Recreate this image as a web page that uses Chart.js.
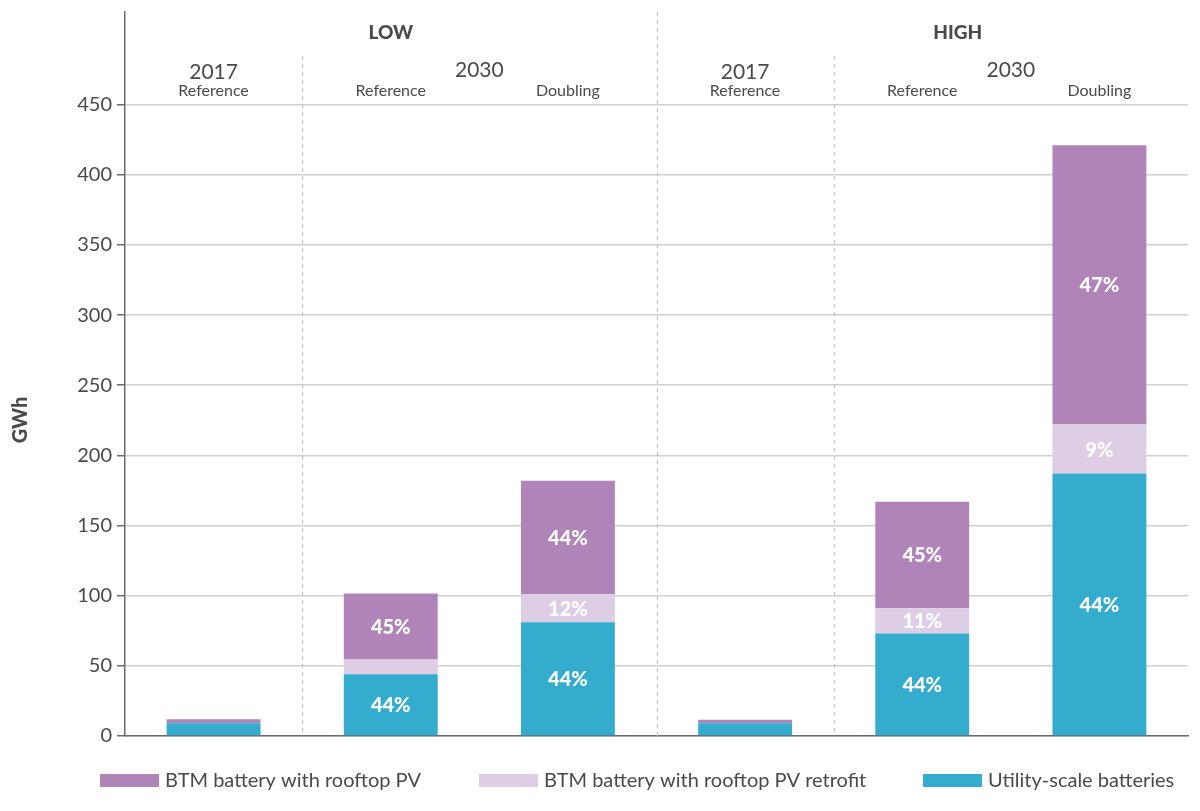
<!DOCTYPE html>
<html>
<head>
<meta charset="utf-8">
<title>Battery storage GWh</title>
<script src="https://cdn.jsdelivr.net/npm/chart.js@4.4.1/dist/chart.umd.min.js"></script>
<style>
  html, body { margin: 0; padding: 0; background: #fff; }
  #wrap { width: 1200px; height: 811px; position: relative; }
</style>
</head>
<body>
<div id="wrap"><canvas id="chart"></canvas></div>
<script>
// categories: scenario group + year + case
const categories = ["LOW 2017 Reference", "LOW 2030 Reference", "LOW 2030 Doubling",
                    "HIGH 2017 Reference", "HIGH 2030 Reference", "HIGH 2030 Doubling"];

// GWh
const utilityScale = [9, 44, 81, 9, 73, 187];
const btmRetrofit  = [0, 10.5, 20, 0, 18, 35];
const btmRooftop   = [3, 47, 81, 2.5, 76, 199];

// share labels printed inside the bars
const utilityPct  = ["", "44%", "44%", "", "44%", "44%"];
const retrofitPct = ["", "", "12%", "", "11%", "9%"];
const rooftopPct  = ["", "45%", "44%", "", "45%", "47%"];

const yTicks = [0, 50, 100, 150, 200, 250, 300, 350, 400, 450];

// header texts above the plot
const groupLabels = ["LOW", "HIGH"];
const yearLabels = ["2017", "2030", "2017", "2030"];
const caseLabels = ["Reference", "Reference", "Doubling", "Reference", "Reference", "Doubling"];

const PURPLE = "#b084b8";
const LILAC = "#ddcde5";
const TEAL = "#34acce";
const TEXT = "#4a4a4a";
const FONT = "Lato, 'Open Sans', sans-serif";

const overlay = {
  id: "overlay",
  beforeDatasetsDraw(chart) {
    const { ctx, chartArea, scales } = chart;
    const xs = scales.x;
    ctx.save();
    ctx.strokeStyle = "#c4c4c4";
    ctx.lineWidth = 1.2;
    ctx.setLineDash([4, 4]);
    [[0.5, 56], [2.5, chartArea.top], [3.5, 56]].forEach(([v, top]) => {
      const x = Math.round(xs.getPixelForValue(v)) + 0.5;
      ctx.beginPath();
      ctx.moveTo(x, top);
      ctx.lineTo(x, chartArea.bottom);
      ctx.stroke();
    });
    ctx.restore();
  },
  afterDatasetsDraw(chart) {
    const { ctx } = chart;
    const pcts = [utilityPct, retrofitPct, rooftopPct];
    ctx.save();
    ctx.fillStyle = "#fff";
    ctx.font = "900 20px " + FONT;
    ctx.textAlign = "center";
    ctx.textBaseline = "middle";
    chart.data.datasets.forEach((ds, i) => {
      chart.getDatasetMeta(i).data.forEach((bar, j) => {
        const t = pcts[i][j];
        if (!t) return;
        ctx.fillText(t, bar.x, (bar.y + bar.base) / 2 + 1);
      });
    });
    ctx.restore();
  },
  afterDraw(chart) {
    const { ctx, scales } = chart;
    const xs = scales.x;
    ctx.save();
    ctx.fillStyle = TEXT;
    ctx.textAlign = "center";
    ctx.textBaseline = "middle";

    // LOW / HIGH
    ctx.font = "900 19px " + FONT;
    ctx.fillText(groupLabels[0], xs.getPixelForValue(1), 33);
    ctx.fillText(groupLabels[1], xs.getPixelForValue(4.2), 33);

    // years
    ctx.font = "21px " + FONT;
    ctx.fillText(yearLabels[0], xs.getPixelForValue(0), 72);
    ctx.fillText(yearLabels[1], xs.getPixelForValue(1.5), 70);
    ctx.fillText(yearLabels[2], xs.getPixelForValue(3), 72);
    ctx.fillText(yearLabels[3], xs.getPixelForValue(4.5), 70);

    // cases
    ctx.font = "16px " + FONT;
    caseLabels.forEach((c, i) => {
      ctx.fillText(c, xs.getPixelForValue(i), 91);
    });

    // y title
    ctx.save();
    ctx.translate(21, 420);
    ctx.rotate(-Math.PI / 2);
    ctx.font = "900 20px " + FONT;
    ctx.fillText("GWh", 0, 0);
    ctx.restore();

    // legend
    const items = [
      [chart.data.datasets[2], 100],
      [chart.data.datasets[1], 479],
      [chart.data.datasets[0], 923]
    ];
    ctx.font = "20px " + FONT;
    ctx.textAlign = "left";
    items.forEach(([ds, x]) => {
      ctx.fillStyle = ds.backgroundColor;
      ctx.fillRect(x, 774, 59, 13);
      ctx.fillStyle = TEXT;
      ctx.fillText(ds.label, x + 65, 781);
    });
    ctx.restore();
  }
};

new Chart(document.getElementById("chart"), {
  type: "bar",
  data: {
    labels: categories,
    datasets: [
      { label: "Utility-scale batteries", data: utilityScale, backgroundColor: TEAL },
      { label: "BTM battery with rooftop PV retrofit", data: btmRetrofit, backgroundColor: LILAC },
      { label: "BTM battery with rooftop PV", data: btmRooftop, backgroundColor: PURPLE }
    ]
  },
  options: {
    responsive: true,
    maintainAspectRatio: false,
    animation: false,
    events: [],
    layout: { padding: { left: 0, right: 12, top: 12, bottom: 75 } },
    datasets: { bar: { categoryPercentage: 1, barPercentage: 0.53, borderWidth: 0 } },
    plugins: {
      legend: { display: false },
      tooltip: { enabled: false }
    },
    scales: {
      x: {
        stacked: true,
        grid: { display: false },
        ticks: { display: false },
        border: { display: true, color: "#6b6b6b", width: 1.5 },
        afterFit: s => { s.height = 0; }
      },
      y: {
        stacked: true,
        min: 0,
        max: 516,
        afterBuildTicks: s => { s.ticks = yTicks.map(v => ({ value: v })); },
        afterFit: s => { s.width = 125; s.paddingTop = 0; s.paddingBottom = 0; },
        grid: { color: "#d0d0d0", lineWidth: 1.5, tickLength: 8, tickColor: "#6b6b6b" },
        border: { display: true, color: "#6b6b6b", width: 1.5 },
        ticks: { color: TEXT, padding: 5, font: { family: FONT, size: 20 } }
      }
    }
  },
  plugins: [overlay]
});
</script>
</body>
</html>
